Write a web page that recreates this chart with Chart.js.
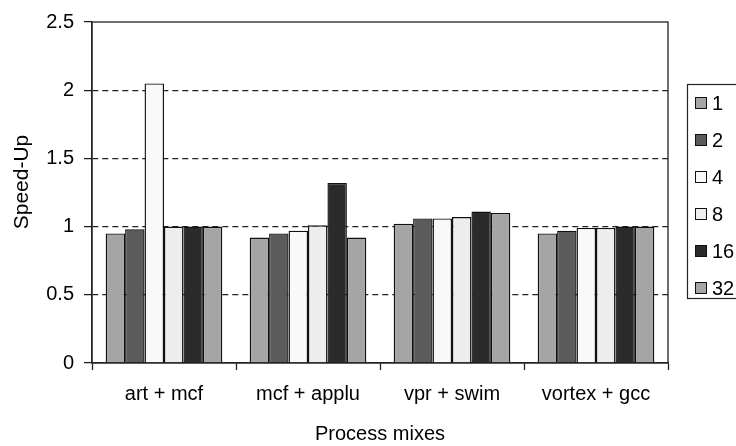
<!DOCTYPE html>
<html>
<head>
<meta charset="utf-8">
<script src="https://cdn.jsdelivr.net/npm/chart.js@4.4.1/dist/chart.umd.min.js"></script>
<style>
  html, body { margin: 0; padding: 0; background: #fff; }
  #wrap { width: 736px; height: 446px; position: relative; }
</style>
</head>
<body>
<div id="wrap"><canvas id="c" width="736" height="446"></canvas></div>
<script>
// Process mixes on the x axis
const categories = ['art + mcf', 'mcf + applu', 'vpr + swim', 'vortex + gcc'];

// Speed-up per configuration
const seriesLabels = ['1', '2', '4', '8', '16', '32'];
const speedup1  = [0.95, 0.92, 1.02, 0.95];
const speedup2  = [0.98, 0.95, 1.06, 0.97];
const speedup4  = [2.05, 0.97, 1.06, 0.99];
const speedup8  = [1.00, 1.01, 1.07, 0.99];
const speedup16 = [1.00, 1.32, 1.11, 1.00];
const speedup32 = [1.00, 0.92, 1.10, 1.00];

const yTicks = [0, 0.5, 1, 1.5, 2, 2.5];

const seriesValues = [speedup1, speedup2, speedup4, speedup8, speedup16, speedup32];
const fills = ['#a5a5a5', '#5b5b5b', '#f9f9f9', '#ededed', '#2b2b2b', '#a5a5a5'];

const FONT = '"Liberation Sans", Arial, Helvetica, sans-serif';
const FONT_SIZE = 20;

// Frame around the plot area, y title and the boxed legend
const decorations = {
  id: 'decorations',
  afterDraw(chart) {
    const ctx = chart.ctx;
    const a = chart.chartArea;
    ctx.save();
    ctx.strokeStyle = '#222';
    ctx.lineWidth = 1.3;
    ctx.strokeRect(a.left, a.top, a.right - a.left, a.bottom - a.top);

    // y axis title
    ctx.fillStyle = '#000';
    ctx.font = '21px ' + FONT;
    ctx.textAlign = 'center';
    ctx.textBaseline = 'middle';
    ctx.translate(22, 182);
    ctx.rotate(-Math.PI / 2);
    ctx.fillText('Speed-Up', 0, 0);
    ctx.restore();

    // legend
    ctx.save();
    const lx = 687, ly = 84, lw = 60, lh = 214;
    ctx.strokeStyle = '#222';
    ctx.lineWidth = 1.2;
    ctx.strokeRect(lx + 0.5, ly + 0.5, lw, lh);
    ctx.font = FONT_SIZE + 'px ' + FONT;
    ctx.textAlign = 'left';
    ctx.textBaseline = 'middle';
    chart.data.datasets.forEach((ds, i) => {
      const cy = 103 + i * 37;
      ctx.fillStyle = ds.backgroundColor;
      ctx.fillRect(695.5, cy - 5.5, 11, 11);
      ctx.strokeStyle = '#111';
      ctx.lineWidth = 1;
      ctx.strokeRect(695.5, cy - 5.5, 11, 11);
      ctx.fillStyle = '#000';
      ctx.fillText(ds.label, 712, cy + 1);
    });
    ctx.restore();
  }
};

new Chart(document.getElementById('c'), {
  type: 'bar',
  data: {
    labels: categories,
    datasets: seriesLabels.map((lab, i) => ({
      label: lab,
      data: seriesValues[i],
      backgroundColor: fills[i],
      borderColor: '#111',
      borderWidth: 1.4,
      categoryPercentage: 0.81,
      barPercentage: 1.0
    }))
  },
  options: {
    responsive: false,
    animation: false,
    layout: { padding: { top: 20, right: 68, left: 0, bottom: 0 } },
    plugins: { legend: { display: false }, tooltip: { enabled: false } },
    scales: {
      x: {
        afterFit(scale) { scale.height = 83; },
        grid: {
          offset: true,
          drawOnChartArea: false,
          drawTicks: true,
          tickLength: 7,
          tickColor: '#222',
          tickWidth: 1.3
        },
        border: { color: '#222', width: 1.3 },
        ticks: {
          color: '#000',
          font: { family: FONT, size: FONT_SIZE },
          padding: 12,
          maxRotation: 0
        },
        title: {
          display: true,
          text: 'Process mixes',
          color: '#000',
          font: { family: FONT, size: FONT_SIZE },
          padding: { top: 0, bottom: 0 }
        }
      },
      y: {
        min: 0,
        max: 2.5,
        afterFit(scale) { scale.width = 92; },
        afterBuildTicks(scale) { scale.ticks = yTicks.map(v => ({ value: v })); },
        grid: {
          color: ctx => (ctx.tick && (ctx.tick.value === 0 || ctx.tick.value === 2.5)) ? 'rgba(0,0,0,0)' : '#222',
          lineWidth: 1.2,
          tickColor: '#222',
          tickBorderDash: [],
          tickLength: 8,
          tickWidth: 1.3
        },
        // in Chart.js v4 the grid-line dash comes from border.dash
        border: { color: '#222', width: 1.3, dash: [6, 4] },
        ticks: {
          color: '#000',
          font: { family: FONT, size: FONT_SIZE },
          padding: 10,
          callback: v => String(v)
        }
      }
    }
  },
  plugins: [decorations]
});
</script>
</body>
</html>
